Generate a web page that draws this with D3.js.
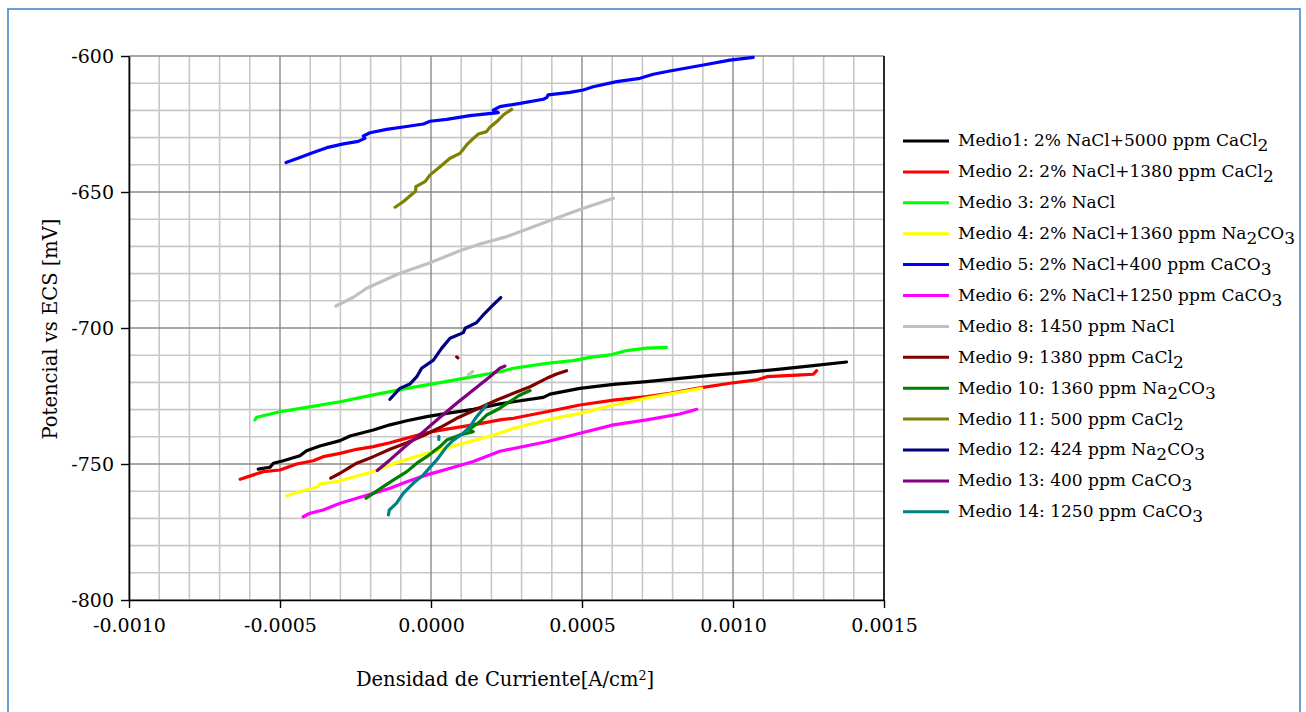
<!DOCTYPE html>
<html><head><meta charset="utf-8">
<script src="https://cdn.jsdelivr.net/npm/d3@7"></script>
<style>
html,body{margin:0;padding:0;background:#fff;}
svg{display:block;}
text{font-family:"DejaVu Serif","Liberation Serif",serif;fill:#000;}
</style></head>
<body>
<svg id="chart" width="1306" height="712"></svg>
<script>
// ---------- DATA ----------
const xTicks = [-0.0010, -0.0005, 0.0000, 0.0005, 0.0010, 0.0015];
const yTicks = [-800, -750, -700, -650, -600];
const xTitle = "Densidad de Curriente[A/cm^2]";
const yTitle = "Potencial vs ECS [mV]";

const seriesNames = [
  "Medio1: 2% NaCl+5000 ppm CaCl_2",
  "Medio 2: 2% NaCl+1380 ppm CaCl_2",
  "Medio 3: 2% NaCl",
  "Medio 4: 2% NaCl+1360 ppm Na_2CO_3",
  "Medio 5: 2% NaCl+400 ppm CaCO_3",
  "Medio 6: 2% NaCl+1250 ppm CaCO_3",
  "Medio 8: 1450 ppm NaCl",
  "Medio 9: 1380 ppm CaCl_2",
  "Medio 10: 1360 ppm Na_2CO_3",
  "Medio 11: 500 ppm CaCl_2",
  "Medio 12: 424 ppm Na_2CO_3",
  "Medio 13: 400 ppm CaCO_3",
  "Medio 14: 1250 ppm CaCO_3"
];
const seriesColors = ["#000000","#ff0000","#00ff00","#ffff00","#0000ff","#ff00ff",
  "#c0c0c0","#800000","#008000","#808000","#000080","#800080","#008080"];

const medio1 = [[-0.000572,-751.9],[-0.000533,-751.2],[-0.000522,-749.7],[-0.000489,-748.8],[-0.000434,-747.0],
  [-0.000412,-745.1],[-0.000368,-743.4],[-0.000301,-741.4],[-0.000268,-739.7],[-0.000191,-737.5],[-0.000136,-735.6],
  [-0.000080,-734.1],[-0.000014,-732.6],[0.000052,-731.4],[0.000140,-729.9],[0.000228,-727.9],[0.000273,-727.1],
  [0.000372,-725.5],[0.000394,-724.3],[0.000493,-722.2],[0.000604,-720.7],[0.000714,-719.7],[0.000824,-718.5],
  [0.000935,-717.3],[0.001045,-716.3],[0.001156,-715.1],[0.001266,-713.8],[0.001376,-712.5]];
const medio2 = [[-0.000632,-755.6],[-0.000588,-754.0],[-0.000555,-752.8],[-0.000500,-752.2],[-0.000445,-750.0],
  [-0.000390,-748.8],[-0.000357,-747.3],[-0.000301,-746.1],[-0.000246,-744.6],[-0.000191,-743.6],[-0.000136,-742.2],
  [-0.000080,-740.5],[-0.000014,-738.5],[0.000052,-737.2],[0.000140,-735.6],[0.000228,-733.8],[0.000273,-733.2],
  [0.000383,-730.8],[0.000493,-728.3],[0.000604,-726.5],[0.000714,-725.2],[0.000791,-724.0],[0.000880,-722.2],
  [0.000990,-720.3],[0.001078,-719.1],[0.001112,-717.9],[0.001211,-717.3],[0.001266,-717.0],[0.001277,-715.7]];
const medio3 = [[-0.000583,-733.8],[-0.000577,-732.8],[-0.000500,-730.8],[-0.000412,-729.2],[-0.000301,-727.1],
  [-0.000191,-724.6],[-0.000080,-722.2],[0.000030,-720.1],[0.000140,-717.9],[0.000228,-716.1],[0.000273,-714.8],
  [0.000383,-713.0],[0.000471,-712.0],[0.000526,-710.8],[0.000593,-709.9],[0.000648,-708.3],[0.000714,-707.4],
  [0.000780,-707.1]];
const medio4 = [[-0.000478,-761.7],[-0.000412,-759.5],[-0.000373,-758.3],[-0.000368,-757.3],[-0.000312,-756.5],
  [-0.000246,-754.4],[-0.000191,-752.8],[-0.000136,-750.3],[-0.000080,-748.3],[-0.000014,-746.1],[0.000030,-744.8],
  [0.000074,-743.4],[0.000140,-741.4],[0.000200,-739.6],[0.000273,-736.9],[0.000383,-733.8],[0.000493,-731.4],
  [0.000604,-728.3],[0.000714,-725.8],[0.000802,-724.0],[0.000896,-722.2]];
const medio5 = [[-0.000480,-639.2],[-0.000434,-637.3],[-0.000390,-635.5],[-0.000345,-633.7],[-0.000290,-632.3],
  [-0.000241,-631.4],[-0.000219,-630.3],[-0.000224,-629.4],[-0.000202,-628.2],[-0.000147,-627.0],[-0.000092,-626.1],
  [-0.000025,-625.0],[-0.000003,-624.0],[0.000052,-623.3],[0.000129,-621.9],[0.000223,-620.8],[0.000206,-619.9],
  [0.000228,-618.6],[0.000295,-617.4],[0.000372,-615.9],[0.000383,-615.3],[0.000388,-614.3],[0.000460,-613.4],
  [0.000504,-612.5],[0.000537,-611.3],[0.000615,-609.4],[0.000692,-608.2],[0.000736,-606.7],[0.000791,-605.5],
  [0.000902,-603.3],[0.000990,-601.5],[0.001067,-600.5]];
const medio6 = [[-0.000423,-769.4],[-0.000401,-768.1],[-0.000357,-766.9],[-0.000301,-764.4],[-0.000246,-762.6],
  [-0.000191,-760.8],[-0.000136,-758.9],[-0.000080,-756.5],[-0.000014,-754.0],[0.000052,-751.9],[0.000140,-749.1],
  [0.000228,-745.3],[0.000383,-741.8],[0.000493,-738.7],[0.000604,-735.6],[0.000714,-733.8],[0.000824,-731.6],
  [0.000880,-729.9]];
const medio8 = [[-0.000315,-691.9],[-0.000257,-688.7],[-0.000213,-685.4],[-0.000158,-682.6],[-0.000103,-679.9],
  [-0.000014,-676.5],[0.000096,-671.6],[0.000162,-669.1],[0.000251,-666.4],[0.000317,-663.7],[0.000405,-660.0],
  [0.000493,-656.4],[0.000604,-652.3],null,[0.000124,-717.3],[0.000138,-716.0]];
const medio9 = [[-0.000332,-755.2],[-0.000301,-753.4],[-0.000279,-751.9],[-0.000246,-749.7],[-0.000191,-747.3],
  [-0.000136,-744.6],[-0.000080,-742.2],[-0.000025,-739.5],[0.000030,-736.6],[0.000085,-733.2],[0.000140,-730.4],
  [0.000218,-726.5],[0.000273,-724.0],[0.000328,-721.6],[0.000383,-718.5],[0.000416,-716.9],[0.000449,-715.7],
  null,[0.000085,-710.6],[0.000089,-711.0]];
const medio10 = [[-0.000215,-762.6],[-0.000191,-760.8],[-0.000158,-758.3],[-0.000125,-755.9],[-0.000080,-752.8],
  [-0.000047,-749.7],[-0.000014,-747.3],[0.000030,-743.6],[0.000052,-741.2],[0.000096,-739.3],[0.000140,-738.1],
  [0.000124,-737.5],[0.000140,-736.2],[0.000162,-734.4],[0.000184,-732.0],[0.000206,-730.8],[0.000228,-729.5],
  [0.000251,-727.7],[0.000273,-726.2],[0.000295,-724.6],[0.000328,-723.0]];
const medio11 = [[-0.000119,-655.6],[-0.000092,-653.6],[-0.000070,-651.5],[-0.000051,-649.7],[-0.000050,-648.0],
  [-0.000020,-646.2],[-0.000003,-643.7],[0.000030,-640.7],[0.000063,-637.6],[0.000096,-635.8],[0.000118,-632.7],
  [0.000140,-630.3],[0.000157,-628.7],[0.000184,-627.8],[0.000195,-626.2],[0.000218,-624.1],[0.000239,-621.7],
  [0.000267,-619.6]];
const medio12 = [[-0.000136,-726.2],[-0.000103,-722.2],[-0.000070,-720.6],[-0.000047,-717.9],[-0.000031,-714.8],
  [0.000008,-711.8],[0.000035,-707.5],[0.000063,-703.8],[0.000107,-701.7],[0.000113,-700.1],[0.000151,-698.0],
  [0.000173,-695.2],[0.000206,-691.5],[0.000231,-688.8]];
const medio13 = [[-0.000178,-752.4],[-0.000136,-748.5],[-0.000080,-743.0],[-0.000025,-738.1],[0.000030,-732.8],
  [0.000085,-727.7],[0.000140,-722.8],[0.000195,-717.9],[0.000228,-714.8],[0.000245,-714.0]];
const medio14 = [[-0.000141,-768.7],[-0.000138,-766.9],[-0.000114,-764.4],[-0.000092,-760.8],[-0.000059,-757.1],
  [-0.000025,-754.0],[-0.000003,-751.2],[0.000019,-748.5],[0.000052,-743.6],[0.000074,-741.2],[0.000107,-738.7],
  [0.000129,-736.3],[0.000151,-732.6],[0.000184,-728.3],null,[0.000026,-739.8],[0.000026,-741.0]];

const seriesData = [medio1, medio2, medio3, medio4, medio5, medio6, medio8, medio9,
  medio10, medio11, medio12, medio13, medio14];

// ---------- LAYOUT ----------
const plot = {left: 129, right: 884, top: 56, bottom: 600};
const svg = d3.select("#chart");

// outer frame
svg.append("rect").attr("x", 8).attr("y", 9).attr("width", 1292).attr("height", 720)
  .attr("fill", "#fff").attr("stroke", "#6a9fd4").attr("stroke-width", 2);

const x = d3.scaleLinear().domain([xTicks[0], xTicks[xTicks.length-1]]).range([plot.left, plot.right]);
const y = d3.scaleLinear().domain([yTicks[0], yTicks[yTicks.length-1]]).range([plot.bottom, plot.top]);

// grid
const g = svg.append("g");
const xMinor = d3.range(-10, 16).map(i => i * 1e-4);
const yMinor = d3.range(-800, -599, 10);
const isMajorX = v => Math.abs(Math.round(v * 1e4)) % 5 === 0;
const isMajorY = v => Math.abs(v) % 50 === 0;

g.selectAll(".vmin").data(xMinor.filter(v => !isMajorX(v))).join("line")
  .attr("x1", d => x(d)).attr("x2", d => x(d)).attr("y1", plot.top).attr("y2", plot.bottom)
  .attr("stroke", "#c8c8c8").attr("stroke-width", 1.6);
g.selectAll(".hmin").data(yMinor.filter(v => !isMajorY(v))).join("line")
  .attr("y1", d => y(d)).attr("y2", d => y(d)).attr("x1", plot.left).attr("x2", plot.right)
  .attr("stroke", "#c8c8c8").attr("stroke-width", 1.6);
g.selectAll(".vmaj").data(xMinor.filter(v => isMajorX(v))).join("line")
  .attr("x1", d => x(d)).attr("x2", d => x(d)).attr("y1", plot.top).attr("y2", plot.bottom)
  .attr("stroke", "#8a8a8a").attr("stroke-width", 1.4);
g.selectAll(".hmaj").data(yMinor.filter(v => isMajorY(v))).join("line")
  .attr("y1", d => y(d)).attr("y2", d => y(d)).attr("x1", plot.left).attr("x2", plot.right)
  .attr("stroke", "#8a8a8a").attr("stroke-width", 1.4);

// right border of plot area
svg.append("line").attr("x1", plot.right).attr("x2", plot.right).attr("y1", plot.top).attr("y2", plot.bottom)
  .attr("stroke", "#000").attr("stroke-width", 1.5);

// axes
const hyph = f => d => f(d).replace("\u2212", "-");
const xAxis = d3.axisBottom(x).tickValues(xTicks).tickFormat(hyph(d3.format(".4f"))).tickSize(8).tickSizeOuter(0).tickPadding(6);
const yAxis = d3.axisLeft(y).tickValues(yTicks).tickFormat(hyph(d3.format("d"))).tickSize(8).tickSizeOuter(0).tickPadding(7);

const gx = svg.append("g").attr("transform", `translate(0,${plot.bottom})`).call(xAxis);
const gy = svg.append("g").attr("transform", `translate(${plot.left},0)`).call(yAxis);
[gx, gy].forEach(a => {
  a.select(".domain").attr("stroke", "#000").attr("stroke-width", 1.6);
  a.selectAll(".tick line").attr("stroke", "#000").attr("stroke-width", 1.4);
  a.selectAll(".tick text").attr("font-family", '"DejaVu Serif", serif').attr("font-size", 19).attr("fill", "#000");
});
gx.selectAll(".tick text").attr("dy", "0.95em");

// lines
const line = d3.line().defined(d => d !== null).x(d => x(d[0])).y(d => y(d[1]));
const lg = svg.append("g");
seriesData.forEach((data, i) => {
  lg.append("path").datum(data).attr("d", line)
    .attr("fill", "none").attr("stroke", seriesColors[i]).attr("stroke-width", 3.2)
    .attr("stroke-linejoin", "round").attr("stroke-linecap", "round");
});

// rich text helper: "_n" subscript, "^n" superscript
function richText(sel, str, size) {
  const parts = str.split(/([_^]\d)/);
  parts.forEach(p => {
    if (!p) return;
    if (p[0] === "_") {
      sel.append("tspan").attr("baseline-shift", "-28%").text(p.slice(1));
    } else if (p[0] === "^") {
      sel.append("tspan").attr("baseline-shift", "50%").attr("font-size", size * 0.65).text(p.slice(1));
    } else {
      sel.append("tspan").text(p);
    }
  });
}

// legend
const legY0 = 141, legStep = 30.9;
const leg = svg.append("g");
seriesNames.forEach((name, i) => {
  const yy = legY0 + i * legStep;
  leg.append("line").attr("x1", 903).attr("x2", 949).attr("y1", yy).attr("y2", yy)
    .attr("stroke", seriesColors[i]).attr("stroke-width", 3);
  const t = leg.append("text").attr("x", 958).attr("y", yy).attr("dy", "0.32em")
    .attr("font-size", 17);
  richText(t, name, 17);
});

// axis titles
const xt = svg.append("text").attr("x", 505).attr("y", 686).attr("text-anchor", "middle").attr("font-size", 19.5);
richText(xt, xTitle, 19.5);
const yt = svg.append("text").attr("transform", "translate(57,329) rotate(-90)").attr("text-anchor", "middle").attr("font-size", 19.5);
richText(yt, yTitle, 19.5);
</script>
</body></html>
